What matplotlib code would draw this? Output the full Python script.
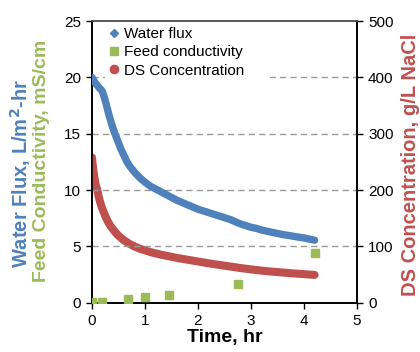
import matplotlib
matplotlib.use("Agg")
import matplotlib.pyplot as plt
from matplotlib.lines import Line2D

plt.rcParams['font.family'] = ['Liberation Sans', 'DejaVu Sans']

# time, hr
time_hr = [0, 0.01, 0.02, 0.03, 0.04, 0.05, 0.065, 0.08, 0.1, 0.125, 0.15, 0.175,
           0.2, 0.225, 0.25, 0.275, 0.3, 0.325, 0.35, 0.375, 0.4, 0.425, 0.45, 0.475,
           0.5, 0.55, 0.6, 0.65, 0.7, 0.75, 0.8, 0.85, 0.9, 0.95, 1.0,
           1.1, 1.2, 1.3, 1.4, 1.5, 1.6, 1.7, 1.8, 1.9, 2.0,
           2.1, 2.2, 2.3, 2.4, 2.5, 2.6, 2.7, 2.8, 2.9, 3.0,
           3.1, 3.2, 3.3, 3.4, 3.5, 3.6, 3.7, 3.8, 3.9, 4.0, 4.1, 4.2]

# water flux, L/m2-hr
water_flux = [20.0, 19.9, 19.8, 19.75, 19.7, 19.6, 19.5, 19.4, 19.3, 19.15, 19.0, 18.9,
              18.7, 18.35, 17.95, 17.5, 17.05, 16.6, 16.2, 15.8, 15.45, 15.1, 14.8, 14.5,
              14.2, 13.6, 13.1, 12.6, 12.2, 11.9, 11.6, 11.35, 11.1, 10.9, 10.7,
              10.35, 10.1, 9.85, 9.6, 9.35, 9.1, 8.9, 8.7, 8.5, 8.3,
              8.15, 8.0, 7.85, 7.7, 7.55, 7.4, 7.2, 7.0, 6.85, 6.7,
              6.6, 6.45, 6.35, 6.25, 6.15, 6.05, 5.98, 5.9, 5.82, 5.75, 5.65, 5.55]

# DS concentration, g/L NaCl
ds_conc = [258, 248, 240, 232, 226, 220, 212, 206, 200, 189, 180, 172,
           166, 160, 154, 149, 144, 140, 136, 133, 130, 127, 124, 121.5,
           119, 115, 111, 108, 105, 102.4, 100, 98, 96, 94.4, 93,
           90, 87.6, 85.4, 83.4, 81.6, 79.6, 78, 76.4, 74.8, 73.2,
           71.6, 70, 68.6, 67.2, 65.8, 64.4, 63, 61.6, 60.4, 59.2,
           58, 57, 56, 55.2, 54.4, 53.6, 52.8, 52, 51.4, 50.8, 50, 49.4]

# feed conductivity, mS/cm
feed_time = [0, 0.18, 0.68, 1.0, 1.45, 2.75, 4.2]
feed_cond = [0.05, 0.1, 0.3, 0.47, 0.65, 1.65, 4.4]

blue = '#4F81BD'
green = '#9BBB59'
red = '#C0504D'

fig = plt.figure(figsize=(4.2, 3.52), dpi=100)
ax = fig.add_axes([0.219, 0.14, 0.631, 0.80])
ax2 = ax.twinx()

ax.set_xlim(0, 5)
ax.set_ylim(0, 25)
ax2.set_ylim(0, 500)
ax.set_xticks(range(0, 6))
ax.set_yticks(range(0, 26, 5))
ax2.set_yticks(range(0, 501, 100))

for y in [5, 10, 15, 20]:
    ax.axhline(y, color='#999999', lw=1.0, ls=(0, (4.5, 3)), zorder=0)

# dense logged points drawn as a thick smooth band
ax.plot(time_hr, water_flux, ls='-', lw=5.3, color=blue,
        solid_capstyle='round', solid_joinstyle='round', zorder=3)
ax.plot(feed_time, feed_cond, ls='none', marker='s', ms=6, color=green,
        mec=green, zorder=4)
ax2.plot(time_hr, ds_conc, ls='-', lw=5.8, color=red,
         solid_capstyle='round', solid_joinstyle='round', zorder=3)

ax.set_zorder(ax2.get_zorder() + 1)
ax.patch.set_visible(False)

for a in (ax, ax2):
    a.tick_params(direction='out', length=4.5, width=1, labelsize=11, colors='black')
    for s in a.spines.values():
        s.set_linewidth(1.2)
ax.spines['top'].set_color('#555555')
ax2.spines['top'].set_color('#555555')

ax.set_xlabel('Time, hr', fontsize=14, fontweight='bold', labelpad=1)

fig.text(0.048, 0.507, 'Water Flux, L/m$^\\mathbf{2}$-hr', rotation=90, color=blue,
         fontsize=14.5, fontweight='bold', ha='center', va='center')
fig.text(0.099, 0.543, 'Feed Conductivity, mS/cm', rotation=90, color=green,
         fontsize=14, fontweight='bold', ha='center', va='center')
fig.text(0.978, 0.531, 'DS Concentration, g/L NaCl', rotation=90, color=red,
         fontsize=14.5, fontweight='bold', ha='center', va='center')

handles = [
    Line2D([], [], ls='none', marker='D', ms=4.5, color=blue, label='Water flux'),
    Line2D([], [], ls='none', marker='s', ms=5.5, color=green, label='Feed conductivity'),
    Line2D([], [], ls='none', marker='o', ms=6, color=red, label='DS Concentration'),
]
leg = ax.legend(handles=handles, loc='upper left',
                bbox_to_anchor=(0.05, 0.995, 0.62, 0.0), mode='expand',
                frameon=True, fontsize=11, handlelength=0.6,
                handletextpad=0.35, labelspacing=0.28, borderpad=0.3,
                borderaxespad=0.0, fancybox=False)
leg.get_frame().set_edgecolor('none')
leg.get_frame().set_facecolor('white')
leg.get_frame().set_alpha(1)

fig.savefig('out.png', dpi=100)
